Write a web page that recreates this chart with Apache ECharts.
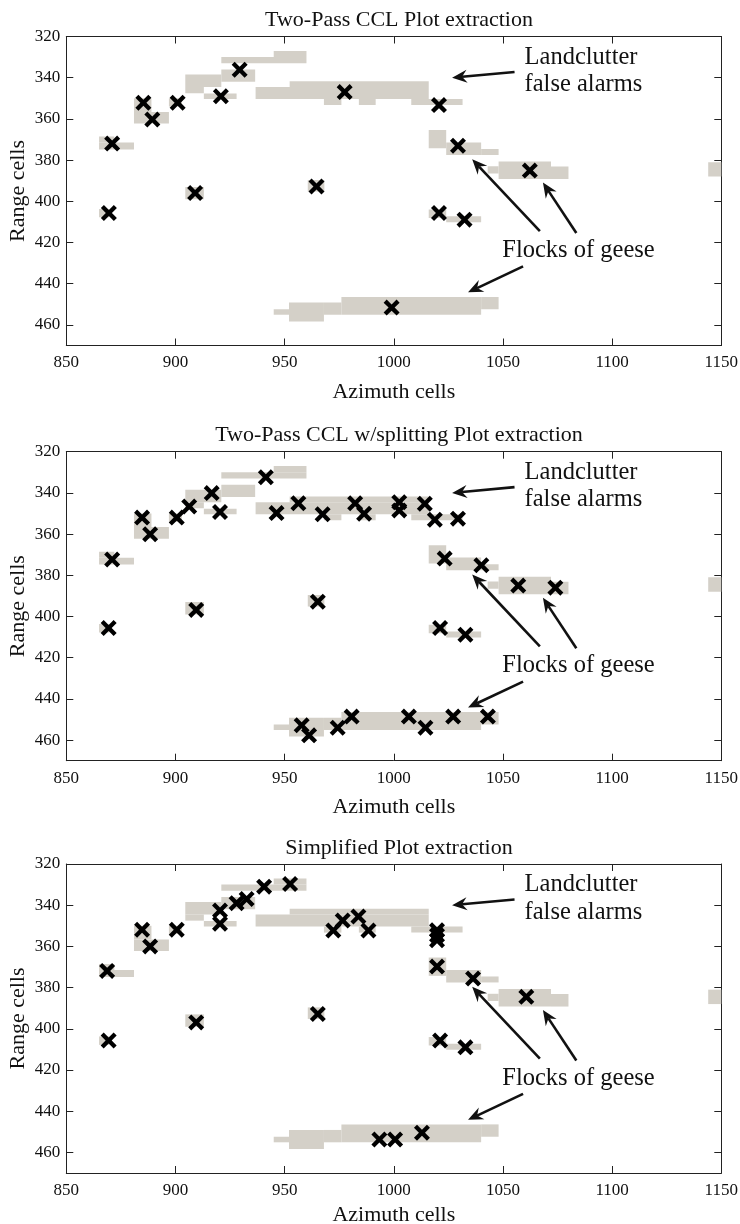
<!DOCTYPE html>
<html>
<head>
<meta charset="utf-8">
<script src="https://cdn.jsdelivr.net/npm/echarts@6/dist/echarts.min.js"></script>
<style>html,body{margin:0;padding:0;background:#fff}#c{width:740px;height:1224px}</style>
</head>
<body>
<div id="c"></div>
<script>
// ---------- data ----------
const xTicks = [850, 900, 950, 1000, 1050, 1100, 1150];
const yTicks = [320, 340, 360, 380, 400, 420, 440, 460];
const titles = ['Two-Pass CCL Plot extraction', 'Two-Pass CCL w/splitting Plot extraction', 'Simplified Plot extraction'];
const xName = 'Azimuth cells';
const yName = 'Range cells';

// detected cells (gray): [azimuthStart, azimuthEnd, rangeStart, rangeEnd]
const clutterCells = [
  [921, 960, 330, 333], [945, 960, 327, 330],
  [921, 936.5, 336, 342], [904.5, 921, 338.5, 344.5], [904.5, 913, 344.5, 347.5],
  [913, 928, 347.7, 350.4],
  [936.7, 1016, 344.5, 350.4], [952.3, 1016, 341.7, 344.5],
  [968, 976, 350.4, 353.3], [984, 991.7, 350.4, 353.3], [1008, 1031.5, 350.4, 353.3],
  [881, 889, 350, 356.6], [881, 897, 356.6, 362.2], [897, 903, 350, 354],
  [865, 881, 371.5, 374.8], [865, 872, 368.6, 371.5],
  [904.5, 913, 393, 399], [960.6, 968.2, 389.6, 395.2], [865, 869.7, 403.7, 407.8],
  [945, 952, 452.4, 455.1], [952, 968, 449.1, 458.3], [968, 976, 449.1, 455.1],
  [976, 1040, 446.4, 455.1], [1040, 1048, 446.4, 452.4],
  [1016, 1024, 365.4, 374.3], [1024, 1040, 371.4, 377.5], [1040, 1048, 374.6, 377.5],
  [1043, 1048, 383, 386.5], [1048, 1072, 380.7, 389.2], [1072, 1080, 383.1, 389.2],
  [1144, 1150, 381, 388],
  [1016, 1024, 404, 408.1], [1024, 1040, 407.3, 410.2]
];

// plot positions (x marks): [azimuth, range]
const plotsCCL = [
  [871, 372], [885.3, 352.2], [889.4, 360.3], [901, 352.2], [920.8, 349], [929.4, 336.1],
  [977.5, 347], [1020.7, 353.3], [1029.4, 373], [1062.3, 385.1], [909, 396], [964.6, 392.8],
  [869.5, 405.7], [1020.7, 405.7], [1032.4, 408.9], [999, 451.6]
];
const plotsSplit = [
  [871, 372.3], [884.7, 352], [888.4, 360.1], [900.6, 352], [906.3, 346.6], [916.6, 340.1],
  [920.4, 349.3], [941.4, 332.4], [946.3, 349.8], [956.3, 345], [967.4, 350.4], [982.3, 345],
  [986.4, 350.1], [1002.5, 344.5], [1002.5, 348.5], [1014.2, 345.3], [1018.8, 353], [1029.4, 352.5],
  [1023.3, 371.9], [1040.1, 375.1], [1057, 385], [1074, 386], [869.4, 405.6], [909.5, 396.8],
  [965.2, 392.8], [1021.2, 405.6], [1032.8, 408.9], [957.8, 452.8], [961.2, 457.7], [974.3, 454],
  [980.7, 448.6], [1006.9, 448.6], [1014.5, 454], [1027.2, 448.6], [1043.1, 448.6]
];
const plotsSimplified = [
  [868.7, 371.9], [884.7, 351.9], [888.4, 360], [900.6, 351.9], [920.4, 349], [920.4, 342.6],
  [928, 339], [932.6, 337], [940.6, 331], [952.5, 329.7], [972.3, 352.3], [976.6, 347.4],
  [983.8, 345.5], [988.4, 352.3], [1019.8, 352.2], [1019.8, 354.6], [1019.8, 357], [1019.8, 369.8],
  [1036.3, 375.6], [1060.7, 384.5], [869.4, 405.7], [909.5, 396.9], [965.2, 392.8], [1021.2, 405.7],
  [1032.8, 409], [993.4, 453.7], [1000.6, 453.7], [1012.9, 450.5]
];
const plotSets = [plotsCCL, plotsSplit, plotsSimplified];

// annotation arrows: [tailAz, tailRange, headAz, headRange]
const arrows = [
  [1055.3, 337.2, 1026.7, 340],
  [1066.9, 414.5, 1035.9, 379.6],
  [1083.6, 415.4, 1068.3, 390.9],
  [1059.2, 431.6, 1034, 444.2]
];
// annotation texts: [az, range, text]
const notes = [
  [1059.9, 330, 'Landclutter'],
  [1059.9, 343.4, 'false alarms'],
  [1049.7, 424, 'Flocks of geese']
];

// ---------- layout ----------
const FONT = '"Liberation Serif", "Times New Roman", serif';
const gridTops = [36.5, 451.7, 864];
const gridH = 309;
const gridLeft = 66.3, gridW = 655;
const xNameGaps = [36, 36, 31];
const ink = '#111';

const chart = echarts.init(document.getElementById('c'), null, {renderer: 'canvas'});

const grids = [], xAxes = [], yAxes = [], series = [], titleOpts = [];
const xSymbol = 'path://M0,1.9 L1.9,0 L5,3.1 L8.1,0 L10,1.9 L6.9,5 L10,8.1 L8.1,10 L5,6.9 L1.9,10 L0,8.1 L3.1,5 Z';

function axisCommon() {
  return {
    axisLine: {show: true, onZero: false, lineStyle: {color: '#222', width: 1}},
    axisTick: {show: true, inside: true, length: 7, lineStyle: {color: '#222', width: 1}},
    splitLine: {show: false}
  };
}

for (let i = 0; i < 3; i++) {
  grids.push({left: gridLeft, top: gridTops[i], width: gridW, height: gridH,
    containLabel: false, outerBoundsMode: 'none'});
  titleOpts.push({
    text: titles[i], left: 394, top: gridTops[i] - 32, textAlign: 'center',
    textStyle: {fontFamily: FONT, fontSize: 22, fontWeight: 'normal', color: ink}
  });
  xAxes.push(Object.assign(axisCommon(), {
    type: 'value', gridIndex: i, position: 'bottom', min: xTicks[0], max: xTicks[xTicks.length - 1],
    interval: xTicks[1] - xTicks[0],
    axisLabel: {fontFamily: FONT, fontSize: 17, color: ink, margin: 9, formatter: v => String(v)},
    name: xName, nameLocation: 'middle', nameGap: xNameGaps[i], nameMoveOverlap: false,
    nameTextStyle: {fontFamily: FONT, fontSize: 22, color: ink}
  }));
  xAxes.push(Object.assign(axisCommon(), {
    type: 'value', gridIndex: i, position: 'top', min: xTicks[0], max: xTicks[xTicks.length - 1],
    interval: xTicks[1] - xTicks[0], axisLabel: {show: false}
  }));
  yAxes.push(Object.assign(axisCommon(), {
    type: 'value', gridIndex: i, position: 'left', inverse: true, min: yTicks[0], max: 470,
    interval: yTicks[1] - yTicks[0],
    axisLabel: {fontFamily: FONT, fontSize: 17, color: ink, margin: 6, showMaxLabel: false,
      formatter: v => (yTicks.indexOf(v) >= 0 ? String(v) : '')},
    name: yName, nameLocation: 'middle', nameGap: 37, nameRotate: 90, nameMoveOverlap: false,
    nameTextStyle: {fontFamily: FONT, fontSize: 22, color: ink}
  }));
  yAxes.push(Object.assign(axisCommon(), {
    type: 'value', gridIndex: i, position: 'right', inverse: true, min: yTicks[0], max: 470,
    interval: yTicks[1] - yTicks[0], axisLabel: {show: false}
  }));

  const xi = 2 * i, yi = 2 * i;
  series.push({
    type: 'custom', xAxisIndex: xi, yAxisIndex: yi, clip: true, silent: true,
    encode: {x: [0, 1], y: [2, 3]},
    data: clutterCells,
    renderItem: function (params, api) {
      const p0 = api.coord([api.value(0), api.value(2)]);
      const p1 = api.coord([api.value(1), api.value(3)]);
      const r = {
        x: Math.min(p0[0], p1[0]), y: Math.min(p0[1], p1[1]),
        width: Math.abs(p1[0] - p0[0]), height: Math.abs(p1[1] - p0[1])
      };
      const cs = params.coordSys;
      const shape = echarts.graphic.clipRectByRect(r, {x: cs.x, y: cs.y, width: cs.width, height: cs.height});
      return shape && {type: 'rect', shape: shape, style: {fill: '#d4d0c8'}};
    }
  });
  series.push({
    type: 'scatter', xAxisIndex: xi, yAxisIndex: yi, silent: true,
    symbol: xSymbol, symbolSize: 16,
    itemStyle: {color: '#000', opacity: 1},
    data: plotSets[i]
  });
  series.push({
    type: 'custom', xAxisIndex: xi, yAxisIndex: yi, clip: false, silent: true,
    encode: {x: [0, 2], y: [1, 3]},
    data: arrows,
    renderItem: function (params, api) {
      const a = api.coord([api.value(0), api.value(1)]);
      const b = api.coord([api.value(2), api.value(3)]);
      const dx = b[0] - a[0], dy = b[1] - a[1];
      const len = Math.hypot(dx, dy);
      const ux = dx / len, uy = dy / len;
      const hl = 15, hw = 6.5, notch = 10;
      const base = [b[0] - ux * hl, b[1] - uy * hl];
      const nb = [b[0] - ux * notch, b[1] - uy * notch];
      const nx = -uy, ny = ux;
      return {
        type: 'group', children: [
          {type: 'line', shape: {x1: a[0], y1: a[1], x2: nb[0], y2: nb[1]}, style: {stroke: ink, lineWidth: 2.6}},
          {type: 'polygon', shape: {points: [b, [base[0] + nx * hw, base[1] + ny * hw], nb, [base[0] - nx * hw, base[1] - ny * hw]]},
            style: {fill: ink}}
        ]
      };
    }
  });
  series.push({
    type: 'custom', xAxisIndex: xi, yAxisIndex: yi, clip: false, silent: true,
    encode: {x: 0, y: 1},
    data: notes.map(n => [n[0], n[1]]),
    renderItem: function (params, api) {
      const p = api.coord([api.value(0), api.value(1)]);
      return {
        type: 'text', x: p[0], y: p[1],
        style: {text: notes[params.dataIndex][2], fill: ink, font: '24.5px ' + FONT, align: 'left', verticalAlign: 'middle'}
      };
    }
  });
}

chart.setOption({
  animation: false,
  backgroundColor: '#fff',
  title: titleOpts,
  grid: grids,
  xAxis: xAxes,
  yAxis: yAxes,
  series: series
});
</script>
</body>
</html>
